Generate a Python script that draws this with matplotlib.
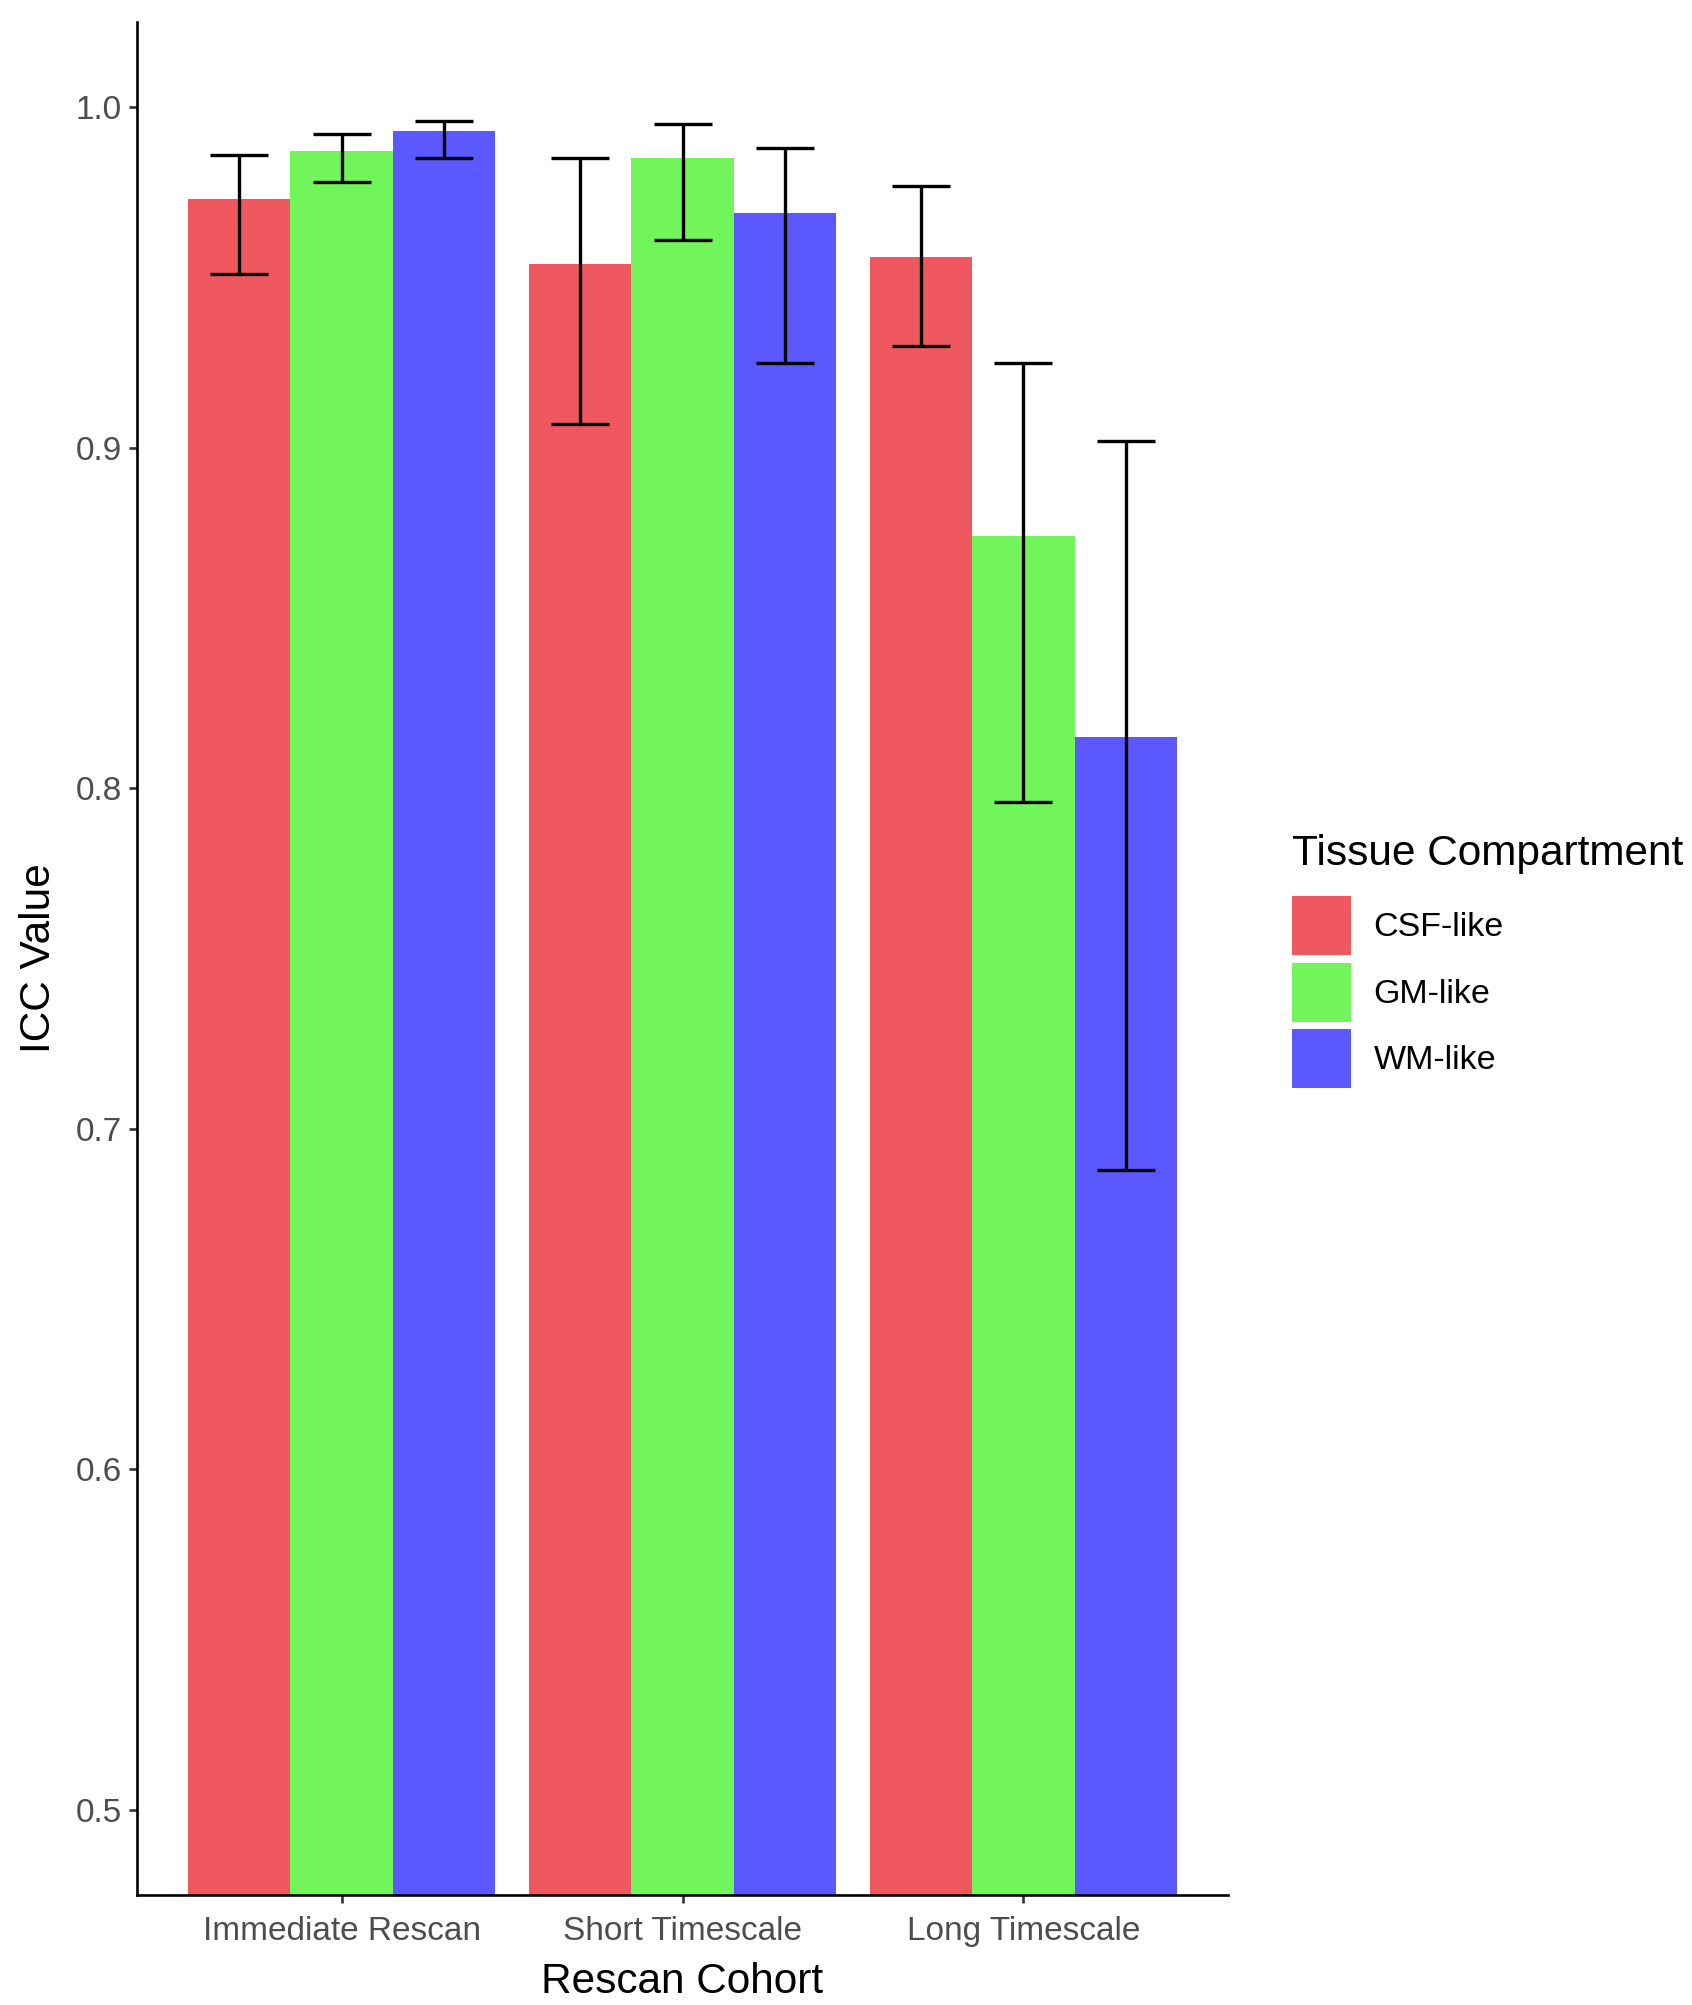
import matplotlib
matplotlib.use("Agg")
import matplotlib.pyplot as plt
from matplotlib.patches import Patch
import numpy as np

plt.rcParams['font.family'] = ['Liberation Sans', 'DejaVu Sans']

cohorts = ["Immediate Rescan", "Short Timescale", "Long Timescale"]
compartments = ["CSF-like", "GM-like", "WM-like"]
colors = ["#EE585E", "#72F55A", "#5A58FE"]

icc_csf = [0.973, 0.954, 0.956]
icc_gm = [0.987, 0.985, 0.874]
icc_wm = [0.993, 0.969, 0.815]

lo_csf = [0.951, 0.907, 0.930]
hi_csf = [0.986, 0.985, 0.977]
lo_gm = [0.978, 0.961, 0.796]
hi_gm = [0.992, 0.995, 0.925]
lo_wm = [0.985, 0.925, 0.688]
hi_wm = [0.996, 0.988, 0.902]

values = [icc_csf, icc_gm, icc_wm]
lows = [lo_csf, lo_gm, lo_wm]
highs = [hi_csf, hi_gm, hi_wm]

fig = plt.figure(figsize=(16.92, 20.05), dpi=100)
ax = fig.add_axes([0.081, 0.0549, 0.7258 - 0.081, 0.989 - 0.0549])

x = np.arange(1, len(cohorts) + 1)
bw = 0.3
for i in range(3):
    xi = x + (i - 1) * bw
    v = np.array(values[i])
    ax.bar(xi, v, width=bw, color=colors[i], bottom=0, zorder=1)
    yerr = np.vstack([v - np.array(lows[i]), np.array(highs[i]) - v])
    ax.errorbar(xi, v, yerr=yerr, fmt='none', ecolor='black', elinewidth=2.4,
                capsize=21, capthick=2.4, zorder=3)

ax.set_xlim(0.4, 3.6)
ax.set_ylim(0.475, 1.025)
ax.set_yticks([0.5, 0.6, 0.7, 0.8, 0.9, 1.0])
ax.set_yticklabels(["0.5", "0.6", "0.7", "0.8", "0.9", "1.0"])
ax.set_xticks(x)
ax.set_xticklabels(cohorts)

for s in ["top", "right"]:
    ax.spines[s].set_visible(False)
for s in ["left", "bottom"]:
    ax.spines[s].set_linewidth(1.9)
    ax.spines[s].set_color("black")

ax.tick_params(axis='both', which='major', labelsize=24, labelcolor='#4D4D4D',
               color='#333333', width=1.9, length=6)
ax.tick_params(axis='x', pad=9)
ax.tick_params(axis='y', pad=5)

ax.set_xlabel("Rescan Cohort", fontsize=30.5, labelpad=11)
ax.set_ylabel("ICC Value", fontsize=30.5, labelpad=12)

handles = [Patch(facecolor=c, edgecolor='none') for c in colors]
leg = fig.legend(handles, compartments, title="Tissue Compartment",
                 loc='upper left', bbox_to_anchor=(0.7638, 0.584),
                 frameon=False, fontsize=24.5, title_fontsize=30.5,
                 handlelength=1.73, handleheight=2.29, labelspacing=0.22,
                 handletextpad=0.66, borderaxespad=0, borderpad=0)
leg._legend_box.align = "left"
leg._legend_box.sep = 16

fig.savefig("out.png", dpi=100)
